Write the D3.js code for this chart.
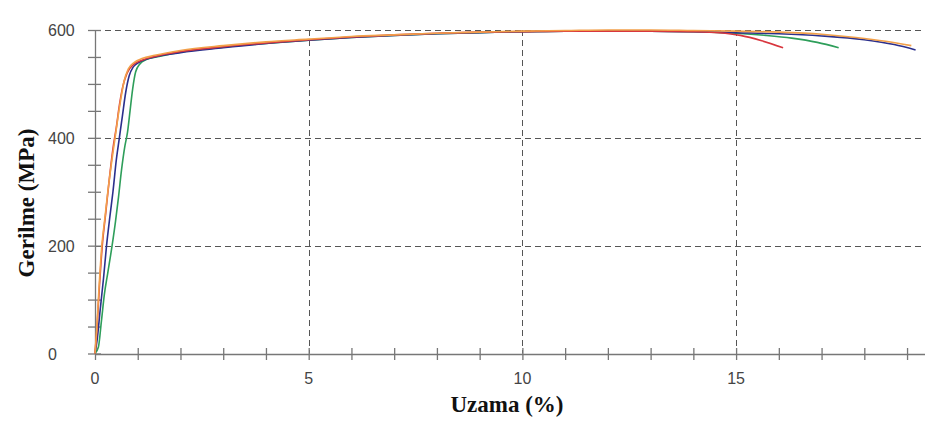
<!DOCTYPE html>
<html>
<head>
<meta charset="utf-8">
<script src="https://cdn.jsdelivr.net/npm/d3@7"></script>
<style>
  body { margin: 0; background: #fff; }
  svg { display: block; }
</style>
</head>
<body>
<div class="chart"></div>
<script>
// strain (%) , stress (MPa)
const greenCurve = [[0,0],[0.08,12],[0.15,60],[0.22,110],[0.3,150],[0.4,200],[0.48,245],[0.55,290],[0.62,340],[0.7,385],[0.76,410],[0.82,450],[0.88,490],[0.95,522],[1.05,537],[1.2,545],[1.5,551],[2,559],[3,568],[4,575],[5,581],[6,586],[7,590],[8,593],[9,595],[10,597],[11,598],[12,598],[13,598],[14,597],[15,594],[15.7,590],[16.3,585],[16.9,577],[17.4,567]];
const blueCurve = [[0,0],[0.05,25],[0.12,80],[0.2,140],[0.27,200],[0.35,255],[0.42,300],[0.5,360],[0.57,400],[0.64,440],[0.72,485],[0.8,515],[0.9,532],[1.05,541],[1.3,548],[2,558],[3,567],[4,575],[5,581],[6,586],[7,590],[8,593],[9,595],[10,597],[11,598],[12,598],[13,598],[14,597],[15,595],[16,593],[17,589],[18,582],[18.7,573],[19.2,563]];
const redCurve = [[0,0],[0.04,40],[0.1,120],[0.17,200],[0.25,260],[0.33,320],[0.42,380],[0.5,420],[0.57,460],[0.65,495],[0.75,520],[0.9,536],[1.1,544],[1.4,551],[2,560],[3,569],[4,576],[5,582],[6,587],[7,591],[8,594],[9,596],[10,597],[11,598],[12,598],[13,598],[14,597],[14.6,595],[15.1,590],[15.6,580],[16.1,567]];
const orangeCurve = [[0,0],[0.04,45],[0.1,130],[0.16,200],[0.23,250],[0.3,300],[0.38,350],[0.47,400],[0.54,440],[0.6,470],[0.68,505],[0.78,528],[0.92,540],[1.1,547],[1.4,553],[2,562],[3,571],[4,578],[5,583],[6,588],[7,591],[8,594],[9,596],[10,598],[11,599],[12,600],[13,600],[14,599],[15,598],[16,596],[17,592],[17.8,586],[18.5,579],[19.1,571]];

const series = [
  {name:'green', color:'#2e9e5a', values:greenCurve},
  {name:'blue', color:'#2b2f8c', values:blueCurve},
  {name:'red', color:'#d8363e', values:redCurve},
  {name:'orange', color:'#f2a04a', values:orangeCurve}
];

const xMajor = [0,5,10,15];
const yMajor = [0,200,400,600];
const xGrid = [5,10,15];
const yGrid = [200,400,600];

const width = 925;
const height = 423;
const svg = d3.select('.chart')
    .append('svg')
    .attr('width', width)
    .attr('height', height);

// scales: origin at (95,353.5)
const x = d3.scaleLinear().domain([0,19.42]).range([95,925]);
const y = d3.scaleLinear().domain([0,600]).range([353.5,30]);

// dashed grid
svg.selectAll('.hgrid')
    .data(yGrid)
    .enter()
    .append('line')
    .attr('x1', x(0))
    .attr('x2', width)
    .attr('y1', d=>Math.round(y(d))+0.5)
    .attr('y2', d=>Math.round(y(d))+0.5)
    .attr('stroke','#555')
    .attr('stroke-dasharray','6,4');

svg.selectAll('.vgrid')
    .data(xGrid)
    .enter()
    .append('line')
    .attr('x1', d=>Math.round(x(d))+0.5)
    .attr('x2', d=>Math.round(x(d))+0.5)
    .attr('y1', y(600))
    .attr('y2', y(0))
    .attr('stroke','#555')
    .attr('stroke-dasharray','6,4');

// x axis, ticks crossing the line
const xAxis = d3.axisBottom(x)
    .tickValues(d3.range(0,20,1))
    .tickSize(0)
    .tickFormat('');
const gx = svg.append('g')
    .attr('transform','translate(0,'+Math.round(y(0))+')')
    .call(xAxis);
gx.select('.domain').attr('stroke','#777').attr('stroke-width',1.3);
gx.selectAll('.tick').append('line')
    .attr('y1',-6).attr('y2',6)
    .attr('stroke','#777').attr('stroke-width',1.3);

// y axis
const yAxis = d3.axisLeft(y)
    .tickValues(d3.range(0,650,50))
    .tickSize(0)
    .tickFormat('');
const gy = svg.append('g')
    .attr('transform','translate('+Math.round(x(0))+',0)')
    .call(yAxis);
gy.select('.domain').attr('stroke','#777').attr('stroke-width',1.3);
gy.selectAll('.tick').append('line')
    .attr('x1',-7).attr('x2',6)
    .attr('stroke','#777').attr('stroke-width',1.3);

// tick labels
svg.selectAll('.xlab')
    .data(xMajor)
    .enter()
    .append('text')
    .text(d=>d)
    .attr('x', d=>x(d))
    .attr('y', 384)
    .attr('text-anchor','middle')
    .attr('font-family','Liberation Sans, Arial, sans-serif')
    .attr('font-size',16)
    .attr('fill','#444');

svg.selectAll('.ylab')
    .data(yMajor)
    .enter()
    .append('text')
    .text(d=>d)
    .attr('x', 48)
    .attr('y', d=>y(d)+6)
    .attr('font-family','Liberation Sans, Arial, sans-serif')
    .attr('font-size',16)
    .attr('fill','#444');

// curves
const line = d3.line()
    .x(d=>x(d[0]))
    .y(d=>y(d[1]))
    .curve(d3.curveMonotoneX);

svg.selectAll('.curve')
    .data(series)
    .enter()
    .append('path')
    .attr('d', d=>line(d.values))
    .attr('fill','none')
    .attr('stroke', d=>d.color)
    .attr('stroke-width',1.6);

// axis titles
svg.append('text')
    .text('Uzama (%)')
    .attr('x', 507)
    .attr('y', 412)
    .attr('text-anchor','middle')
    .attr('font-family','Liberation Serif, Times New Roman, serif')
    .attr('font-weight','bold')
    .attr('font-size',23)
    .attr('fill','#111');

svg.append('text')
    .text('Gerilme (MPa)')
    .attr('transform','translate(34,203) rotate(-90)')
    .attr('text-anchor','middle')
    .attr('font-family','Liberation Serif, Times New Roman, serif')
    .attr('font-weight','bold')
    .attr('font-size',23)
    .attr('fill','#111');
</script>
</body>
</html>
